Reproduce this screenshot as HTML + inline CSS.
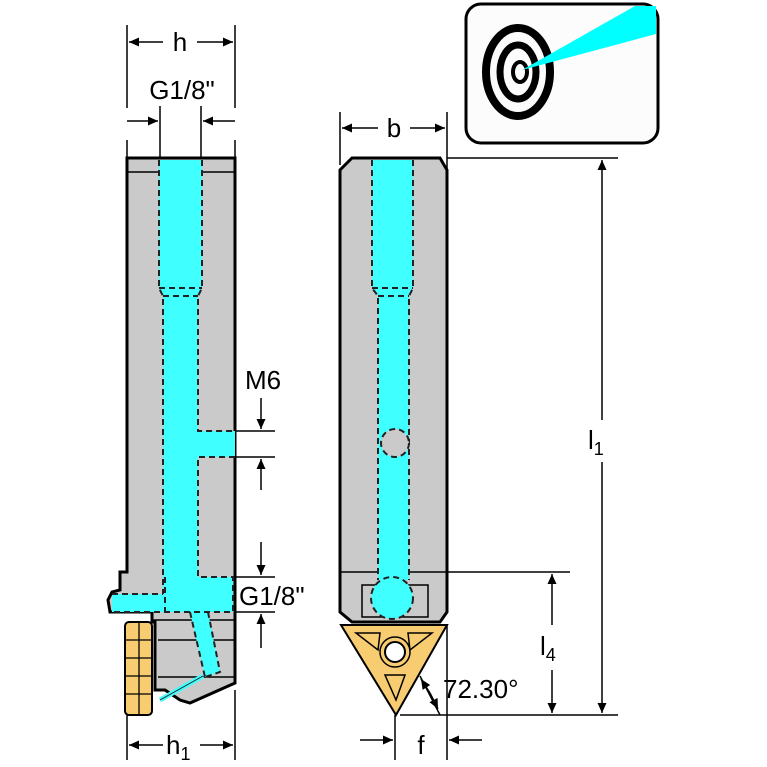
<!DOCTYPE html>
<html><head><meta charset="utf-8"><style>
html,body{margin:0;padding:0;background:#fff}
svg{display:block}
text{font-family:"Liberation Sans",sans-serif;fill:#000}
</style></head><body>
<svg width="767" height="767" viewBox="0 0 767 767" xmlns="http://www.w3.org/2000/svg">
<defs>
<marker id="a" viewBox="0 0 10 10" refX="10" refY="5" markerWidth="14" markerHeight="10" orient="auto-start-reverse" markerUnits="userSpaceOnUse"><path d="M0,0.5 L10,5 L0,9.5 z" fill="#000"/></marker>
</defs>
<!-- ICON -->
<rect x="466" y="4" width="192" height="139" rx="15" fill="#fcfcfc" stroke="#000" stroke-width="3"/>
<ellipse cx="518" cy="72" rx="32" ry="44" fill="none" stroke="#000" stroke-width="8"/>
<ellipse cx="518" cy="72" rx="18" ry="27" fill="none" stroke="#000" stroke-width="7"/>
<ellipse cx="520" cy="72" rx="7" ry="10" fill="none" stroke="#000" stroke-width="4"/>
<polygon points="522,70 635,6 656,6 656,34" fill="#00ffff"/>

<!-- LEFT BODY -->
<path d="M127,158 L235,158 L235,683 L190,703 L180,700 L165,690 L155,690 L155,622 L152,622 L152,612 L110,612 L108,600 L112,592 L120,590 L120,572 L127,572 Z" fill="#cacaca" stroke="#000" stroke-width="3"/>
<line x1="127" y1="172" x2="235" y2="172" stroke="#000" stroke-width="1.5"/>
<line x1="152" y1="620" x2="235" y2="620" stroke="#000" stroke-width="1.5"/>
<line x1="158" y1="640" x2="235" y2="640" stroke="#000" stroke-width="1.5"/>
<line x1="158" y1="677" x2="235" y2="677" stroke="#000" stroke-width="1.5"/>
<!-- channels left -->
<g fill="#40ffff" stroke="none">
<path d="M159,160 L202,160 L202,288 L198,296 L198,431 L235,431 L235,457 L198,457 L198,577 L233,577 L233,612 L112,612 L112,594 L163,594 L163,296 L159,288 Z"/>
<polygon points="190,612 208,612 220,672 205,677"/>
</g>
<g fill="none" stroke="#222" stroke-width="2" stroke-dasharray="6,4">
<path d="M159,160 L159,288 L163,296 L163,594"/>
<path d="M202,160 L202,288 L198,296 L198,431 L235,431"/>
<path d="M159,288 L202,288 M163,296 L198,296"/>
<path d="M235,457 L198,457 L198,577 L233,577 L233,612 L112,612"/>
<path d="M112,594 L163,594 M165,577 L165,612"/>
<path d="M190,612 L205,677 M208,612 L220,672 L205,677"/>
</g>
<path d="M203,676 L160,700" stroke="#40ffff" stroke-width="5"/>
<path d="M203,676 L160,700" stroke="#222" stroke-width="1" fill="none"/>
<!-- insert left -->
<rect x="125" y="622" width="27" height="93" rx="4" fill="#f8cd72" stroke="#000" stroke-width="2"/>
<g stroke="#000" stroke-width="1.3">
<line x1="139" y1="622" x2="139" y2="715"/>
<line x1="125" y1="640" x2="152" y2="640"/><line x1="125" y1="658" x2="152" y2="658"/>
<line x1="125" y1="676" x2="152" y2="676"/><line x1="125" y1="694" x2="152" y2="694"/>
</g>

<!-- RIGHT BODY -->
<path d="M352,158 L440,158 L447,170 L447,612 L440,622 L352,622 L340,612 L340,170 Z" fill="#cacaca" stroke="#000" stroke-width="3"/>
<line x1="340" y1="572" x2="447" y2="572" stroke="#000" stroke-width="1.5"/>
<rect x="362" y="585" width="66" height="32" fill="none" stroke="#000" stroke-width="1.5"/>
<path d="M372,160 L413,160 L413,288 L409,296 L409,580 L378,580 L378,296 L372,288 Z" fill="#40ffff"/>
<g fill="none" stroke="#222" stroke-width="2" stroke-dasharray="6,4">
<path d="M372,160 L372,288 L378,296 L378,580"/>
<path d="M413,160 L413,288 L409,296 L409,580"/>
<path d="M372,288 L413,288 M378,296 L409,296"/>
</g>
<circle cx="395" cy="443" r="14" fill="#cacaca" stroke="#222" stroke-width="2" stroke-dasharray="6,4"/>
<circle cx="392" cy="598" r="21" fill="#40ffff" stroke="#222" stroke-width="2" stroke-dasharray="6,4"/>
<!-- triangle insert -->
<polygon points="341,625 447,625 396,715" fill="#f8cd72" stroke="#000" stroke-width="2"/>
<g fill="none" stroke="#000" stroke-width="1.5">
<polygon points="356,633 380,633 378,650"/>
<polygon points="432,633 408,633 410,650"/>
<polygon points="385,675 405,675 396,700"/>
<circle cx="395" cy="652" r="15"/>
</g>
<circle cx="395" cy="652" r="10" fill="#fff" stroke="#000" stroke-width="2"/>

<!-- DIMENSIONS -->
<g stroke="#000" stroke-width="1.5" fill="none">
<line x1="127" y1="25" x2="127" y2="108"/><line x1="235" y1="25" x2="235" y2="108"/>
<line x1="127" y1="140" x2="127" y2="158"/><line x1="235" y1="140" x2="235" y2="158"/>
<line x1="129" y1="42" x2="163" y2="42" marker-start="url(#a)"/>
<line x1="197" y1="42" x2="233" y2="42" marker-end="url(#a)"/>
<line x1="160" y1="106" x2="160" y2="158"/><line x1="201" y1="106" x2="201" y2="158"/>
<line x1="127" y1="121" x2="158" y2="121" marker-end="url(#a)"/>
<line x1="235" y1="121" x2="203" y2="121" marker-end="url(#a)"/>
<!-- M6 -->
<line x1="235" y1="431" x2="275" y2="431"/><line x1="235" y1="457" x2="275" y2="457"/>
<line x1="261" y1="398" x2="261" y2="429" marker-end="url(#a)"/>
<line x1="261" y1="490" x2="261" y2="459" marker-end="url(#a)"/>
<!-- G1/8 lower -->
<line x1="235" y1="577" x2="275" y2="577"/><line x1="235" y1="612" x2="275" y2="612"/>
<line x1="261" y1="542" x2="261" y2="575" marker-end="url(#a)"/>
<line x1="261" y1="648" x2="261" y2="614" marker-end="url(#a)"/>
<!-- h1 -->
<line x1="127" y1="715" x2="127" y2="760"/><line x1="235" y1="690" x2="235" y2="760"/>
<line x1="129" y1="745" x2="163" y2="745" marker-start="url(#a)"/>
<line x1="200" y1="745" x2="233" y2="745" marker-end="url(#a)"/>
<!-- b -->
<line x1="340" y1="112" x2="340" y2="165"/><line x1="447" y1="112" x2="447" y2="170"/>
<line x1="342" y1="128" x2="378" y2="128" marker-start="url(#a)"/>
<line x1="410" y1="128" x2="445" y2="128" marker-end="url(#a)"/>
<!-- l1 -->
<line x1="447" y1="158" x2="618" y2="158"/>
<line x1="400" y1="715" x2="618" y2="715"/>
<line x1="602" y1="420" x2="602" y2="160" marker-end="url(#a)"/>
<line x1="602" y1="462" x2="602" y2="713" marker-end="url(#a)"/>
<!-- l4 -->
<line x1="447" y1="572" x2="570" y2="572"/>
<line x1="552" y1="625" x2="552" y2="574" marker-end="url(#a)"/>
<line x1="552" y1="670" x2="552" y2="713" marker-end="url(#a)"/>
<!-- f -->
<line x1="395" y1="715" x2="395" y2="760"/><line x1="447" y1="625" x2="447" y2="760"/>
<line x1="360" y1="740" x2="393" y2="740" marker-end="url(#a)"/>
<line x1="482" y1="740" x2="449" y2="740" marker-end="url(#a)"/>
<!-- angle -->
<line x1="420" y1="676" x2="440" y2="715"/>
<line x1="430" y1="693" x2="421" y2="679" marker-end="url(#a)"/>
<line x1="430" y1="693" x2="438" y2="709" marker-end="url(#a)"/>
</g>
<!-- TEXT -->
<text x="180" y="51" font-size="26" text-anchor="middle">h</text>
<text x="182" y="99" font-size="26" text-anchor="middle">G1/8"</text>
<text x="245" y="389" font-size="26">M6</text>
<text x="239" y="605" font-size="26">G1/8"</text>
<text x="166" y="754" font-size="26">h<tspan font-size="18" dy="6">1</tspan></text>
<text x="394" y="137" font-size="26" text-anchor="middle">b</text>
<text x="588" y="449" font-size="26">l<tspan font-size="18" dy="6">1</tspan></text>
<text x="540" y="655" font-size="26">l<tspan font-size="18" dy="6">4</tspan></text>
<text x="421" y="754" font-size="26" text-anchor="middle">f</text>
<text x="443" y="698" font-size="26">72.30°</text>
</svg>
</body></html>
